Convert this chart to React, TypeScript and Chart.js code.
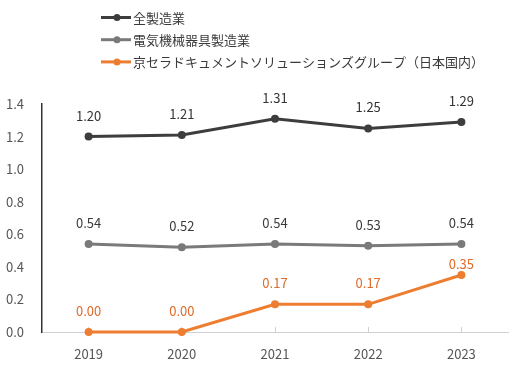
import React, { useEffect, useRef } from "react";
import { Chart, registerables } from "chart.js";

Chart.register(...registerables);

const categories = ["2019", "2020", "2021", "2022", "2023"];
const seriesNames = ["全製造業", "電気機械器具製造業", "京セラドキュメントソリューションズグループ（日本国内）"];
const allManufacturing = [1.2, 1.21, 1.31, 1.25, 1.29];
const electricalManufacturing = [0.54, 0.52, 0.54, 0.53, 0.54];
const kyoceraGroup = [0.0, 0.0, 0.17, 0.17, 0.35];
const yTicks = [0, 0.2, 0.4, 0.6, 0.8, 1.0, 1.2, 1.4];

const FONT = "'Noto Sans CJK JP', 'Noto Sans', sans-serif";
const lineColors = ["#3d3d3d", "#7a7a7a", "#ed7d31"];
const labelColors = ["#333333", "#3a3a3a", "#e06a26"];
// label offset above point (px); last orange label sits closer to its point
const labelOffsets = [
  [21, 21, 21, 21, 21],
  [21, 21, 21, 21, 21],
  [21, 21, 21, 21, 11],
];

const dataLabelPlugin = {
  id: "dataLabels",
  afterDatasetsDraw(chart: any) {
    const ctx = chart.ctx;
    ctx.save();
    ctx.font = `13px ${FONT}`;
    ctx.textAlign = "center";
    ctx.textBaseline = "middle";
    chart.data.datasets.forEach((ds: any, i: number) => {
      const meta = chart.getDatasetMeta(i);
      ctx.fillStyle = labelColors[i];
      meta.data.forEach((pt: any, j: number) => {
        ctx.fillText(Number(ds.data[j]).toFixed(2), pt.x, pt.y - labelOffsets[i][j]);
      });
    });
    ctx.restore();
  },
};

const legendPlugin = {
  id: "columnLegend",
  afterDraw(chart: any) {
    const ctx = chart.ctx;
    ctx.save();
    ctx.font = `13px ${FONT}`;
    ctx.textBaseline = "middle";
    ctx.textAlign = "left";
    chart.data.datasets.forEach((ds: any, i: number) => {
      const y = 17.5 + i * 22.2;
      ctx.strokeStyle = ds.borderColor;
      ctx.lineWidth = 3;
      ctx.beginPath();
      ctx.moveTo(101, y);
      ctx.lineTo(131, y);
      ctx.stroke();
      ctx.fillStyle = ds.borderColor;
      ctx.beginPath();
      ctx.arc(117, y, 3.5, 0, Math.PI * 2);
      ctx.fill();
      ctx.fillStyle = "#3a3a3a";
      ctx.fillText(ds.label, 133, y + 0.5);
    });
    ctx.restore();
  },
};

export default function App() {
  const canvasRef = useRef<HTMLCanvasElement>(null);

  useEffect(() => {
    if (!canvasRef.current) return;
    const values = [allManufacturing, electricalManufacturing, kyoceraGroup];
    const chart = new Chart(canvasRef.current, {
      type: "line",
      data: {
        labels: categories,
        datasets: values.map((v, i) => ({
          label: seriesNames[i],
          data: v,
          borderColor: lineColors[i],
          backgroundColor: lineColors[i],
          pointBackgroundColor: lineColors[i],
          pointBorderColor: lineColors[i],
          borderWidth: 3,
          pointRadius: 4,
          pointBorderWidth: 0,
          tension: 0,
          clip: false as any,
        })),
      },
      options: {
        animation: false,
        responsive: false,
        maintainAspectRatio: false,
        layout: { padding: { top: 104, right: 14, left: 0, bottom: 0 } },
        plugins: {
          legend: { display: false },
          tooltip: { enabled: false },
        },
        scales: {
          x: {
            offset: true,
            grid: {
              drawOnChartArea: false,
              drawTicks: true,
              tickLength: -5,
              color: "#d0d0d0",
              offset: false,
            },
            border: { display: true, color: "#d0d0d0", width: 1 },
            ticks: {
              color: "#555555",
              font: { family: FONT, size: 13 },
              padding: 19,
            },
            afterFit: (scale: any) => {
              scale.height = 35;
            },
          },
          y: {
            min: 0,
            max: 1.4,
            afterBuildTicks: (scale: any) => {
              scale.ticks = yTicks.map((v) => ({ value: v }));
            },
            grid: { display: false, drawTicks: false },
            border: { display: true, color: "#333333", width: 1.5 },
            ticks: {
              color: "#555555",
              font: { family: FONT, size: 13 },
              padding: 18,
              callback: (v: any) => Number(v).toFixed(1),
            },
            afterFit: (scale: any) => {
              scale.width = 42;
            },
          },
        },
      },
      plugins: [dataLabelPlugin, legendPlugin],
    });
    return () => chart.destroy();
  }, []);

  return (
    <div style={{ position: "fixed", left: 0, top: 0, width: 522, height: 367, background: "#ffffff" }}>
      <canvas ref={canvasRef} width={522} height={367} style={{ width: 522, height: 367 }} />
    </div>
  );
}
